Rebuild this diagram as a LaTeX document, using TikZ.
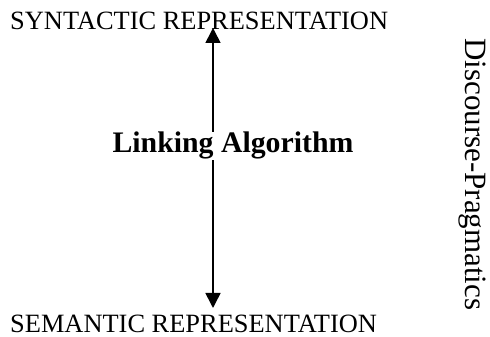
\documentclass[tikz,border=0pt]{standalone}
\usepackage{fontspec}
\setmainfont{Liberation Serif}
\usetikzlibrary{arrows.meta}
\begin{document}
\begin{tikzpicture}[x=1pt,y=1pt,
  level/.style={inner sep=0pt, font=\fontsize{26.4}{30}\selectfont},
  linker/.style={inner sep=0pt, fill=white, font=\fontsize{29.8}{34}\selectfont\bfseries},
  side/.style={inner sep=0pt, rotate=-90, font=\fontsize{31}{36}\selectfont},
  link arrow/.style={line width=1.6pt, {Triangle[length=15pt,width=15pt]}-{Triangle[length=15pt,width=15pt]}}]
  \useasboundingbox (0,0) rectangle (490,337);
  % the two representation levels
  \node[level, anchor=base west] (syn) at (10,307) {SYNTACTIC REPRESENTATION};
  \node[level, anchor=base west] (sem) at (10,4.5) {SEMANTIC REPRESENTATION};
  % the linking arrow between them
  \coordinate (top) at (213,309);
  \coordinate (bot) at (213,29);
  \draw[link arrow] (bot) -- (top);
  \node[linker, anchor=base] (link) at (233,184) {Linking Algorithm};
  % discourse-pragmatics alongside
  \node[side, anchor=base west] (dp) at (465,299) {Discourse-Pragmatics};
\end{tikzpicture}
\end{document}
